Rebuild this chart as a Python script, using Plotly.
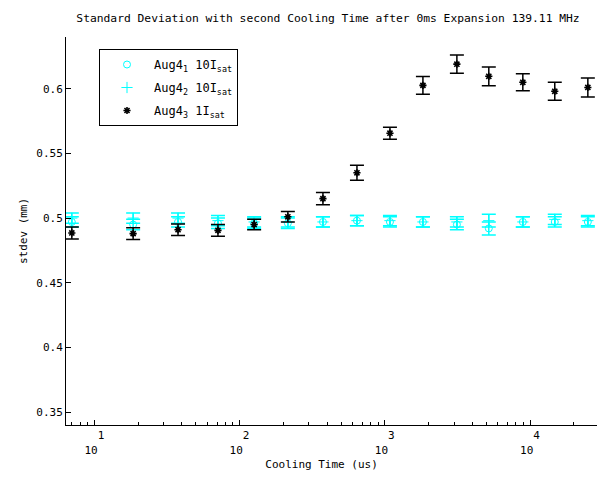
import plotly.graph_objects as go

# ---- data ----
cooling_time = [7.0, 18.5, 37.7, 71, 126, 215, 375, 643, 1085, 1830, 3135, 5200, 8920, 14800, 25000]

aug4_1 = [0.497, 0.495, 0.497, 0.496, 0.496, 0.496, 0.497, 0.498, 0.497, 0.497, 0.495, 0.492, 0.497, 0.497, 0.497]
aug4_1_err = [0.004, 0.004, 0.004, 0.004, 0.004, 0.004, 0.004, 0.004, 0.004, 0.004, 0.004, 0.005, 0.004, 0.004, 0.004]

aug4_2 = [0.500, 0.500, 0.500, 0.498, 0.497, 0.497, 0.497, 0.498, 0.498, 0.497, 0.497, 0.498, 0.497, 0.499, 0.498]
aug4_2_err = [0.004, 0.004, 0.004, 0.004, 0.004, 0.004, 0.004, 0.004, 0.004, 0.004, 0.004, 0.005, 0.004, 0.004, 0.004]

aug4_3 = [0.4885, 0.488, 0.491, 0.4905, 0.495, 0.501, 0.515, 0.535, 0.5656, 0.6026, 0.619, 0.6096, 0.605, 0.598, 0.601]
aug4_3_err = [0.0046, 0.0046, 0.0045, 0.0045, 0.004, 0.004, 0.0047, 0.0058, 0.0047, 0.0068, 0.007, 0.0073, 0.0065, 0.007, 0.0073]

names = ["Aug4<sub>1</sub> 10I<sub>sat</sub>",
         "Aug4<sub>2</sub> 10I<sub>sat</sub>",
         "Aug4<sub>3</sub> 1I<sub>sat</sub>"]

y_ticks = [0.35, 0.4, 0.45, 0.5, 0.55, 0.6]
y_ticktext = ["0.35", "0.4", "0.45", "0.5", "0.55", "0.6"]
x_ticks = [10, 100, 1000, 10000]
x_ticktext = ["&nbsp;&nbsp;1<br>10&nbsp;", "&nbsp;&nbsp;2<br>10&nbsp;",
              "&nbsp;&nbsp;3<br>10&nbsp;", "&nbsp;&nbsp;4<br>10&nbsp;"]
x_minor = [m * 10 ** e for e in range(0, 5) for m in range(2, 10)]

FONT = "DejaVu Sans Mono"
CYAN = "#00FFFF"

fig = go.Figure()
fig.add_trace(go.Scatter(
    x=cooling_time, y=aug4_1, mode="markers", name=names[0],
    legendgroup="a",
    marker=dict(symbol="circle-open", size=7, color=CYAN, line=dict(color=CYAN, width=1)),
    error_y=dict(type="data", array=aug4_1_err, color=CYAN, thickness=1.5, width=7),
))
fig.add_trace(go.Scatter(
    x=cooling_time, y=aug4_2, mode="markers", name=names[1],
    legendgroup="b",
    marker=dict(symbol="cross-thin-open", size=8, color=CYAN, line=dict(color=CYAN, width=1)),
    error_y=dict(type="data", array=aug4_2_err, color=CYAN, thickness=1.5, width=7),
))
fig.add_trace(go.Scatter(
    x=cooling_time, y=aug4_3, mode="markers", name=names[2],
    legendgroup="c",
    marker=dict(symbol="asterisk-open", size=6, color="black", line=dict(color="black", width=1.6)),
    error_y=dict(type="data", array=aug4_3_err, color="black", thickness=1.5, width=7),
))

fig.update_layout(
    width=597, height=479,
    margin=dict(l=66, r=0, t=37, b=54),
    paper_bgcolor="white", plot_bgcolor="white",
    font=dict(family=FONT, size=11, color="black"),
    title=dict(text="Standard Deviation with second Cooling Time after 0ms Expansion 139.11 MHz",
               x=328 / 597, xanchor="center", xref="container", y=1 - 18 / 479, yanchor="middle",
               yref="container", font=dict(family=FONT, size=11.3, color="black")),
    showlegend=True,
    legend=dict(x=(99 - 66) / 531, y=1 - (49 - 37) / 388, xanchor="left", yanchor="top",
                bgcolor="white", bordercolor="black", borderwidth=1, itemwidth=44,
                tracegroupgap=4, font=dict(family=FONT, size=12)),
    xaxis=dict(type="log", range=[0.805, 4.461], showgrid=False, zeroline=False,
               showline=True, linecolor="black", linewidth=1, mirror=False,
               ticks="inside", ticklen=5, tickcolor="black",
               tickmode="array", tickvals=x_ticks, ticktext=x_ticktext,
               minor=dict(ticks="inside", ticklen=3, tickcolor="black", tickmode="array",
                          tickvals=x_minor, showgrid=False),
               title=dict(text="Cooling Time (us)&nbsp;&nbsp;&nbsp;", standoff=4,
                          font=dict(family=FONT, size=11, color="black")),
               tickfont=dict(family=FONT, size=11)),
    yaxis=dict(range=[0.34, 0.64], showgrid=False, zeroline=False,
               showline=True, linecolor="black", linewidth=1, mirror=False,
               ticks="inside", ticklen=5, tickcolor="black",
               tickmode="array", tickvals=y_ticks, ticktext=y_ticktext,
               title=dict(text="stdev (mm)", standoff=6,
                          font=dict(family=FONT, size=11, color="black")),
               tickfont=dict(family=FONT, size=11)),
)

fig.write_html("out.html")
